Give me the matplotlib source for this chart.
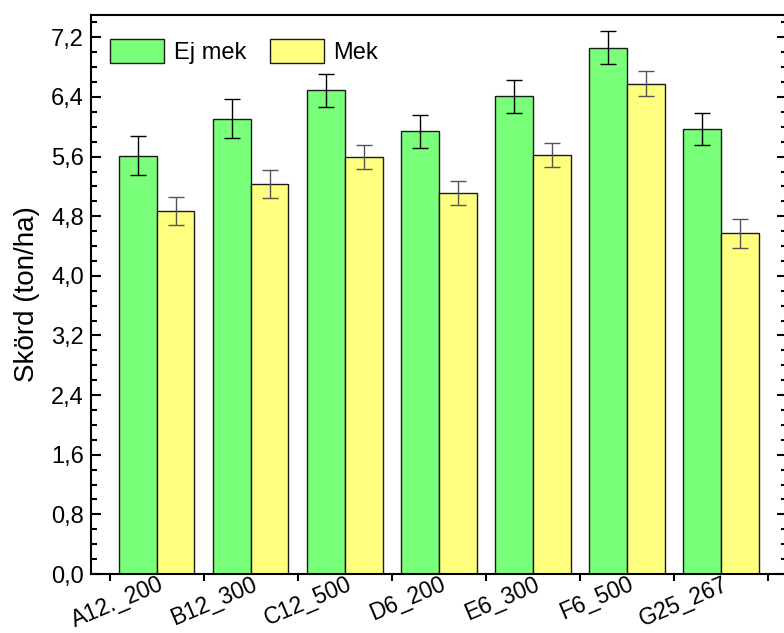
import numpy as np
import matplotlib
matplotlib.use('Agg')
import matplotlib.pyplot as plt
import matplotlib.transforms as mtransforms
from matplotlib.ticker import MultipleLocator, FuncFormatter, FixedLocator, NullFormatter

plt.rcParams['font.family'] = ['Liberation Sans', 'DejaVu Sans']

# skörd per försöksled, ton/ha
led = ['A12._200', 'B12_300', 'C12_500', 'D6_200', 'E6_300', 'F6_500', 'G25_267']
ej_mek = [5.61, 6.11, 6.49, 5.94, 6.41, 7.06, 5.97]
ej_mek_fel = [0.26, 0.26, 0.22, 0.22, 0.22, 0.22, 0.22]
mek = [4.87, 5.23, 5.60, 5.11, 5.62, 6.58, 4.57]
mek_fel = [0.19, 0.19, 0.16, 0.165, 0.16, 0.165, 0.19]

x = np.arange(len(led))
w = 0.4

fig = plt.figure(figsize=(7.84, 6.33), dpi=100)
ax = fig.add_axes([0.1161, 0.0932, 0.8875, 0.8831])

ax.bar(x - w / 2, ej_mek, w, color='#79FF79', edgecolor='#1a1a1a', linewidth=1.0,
       label='Ej mek', zorder=2)
ax.bar(x + w / 2, mek, w, color='#FFFF7F', edgecolor='#1a1a1a', linewidth=1.0,
       label='Mek', zorder=2)
ax.errorbar(x - w / 2, ej_mek, yerr=ej_mek_fel, fmt='none', ecolor='black',
            elinewidth=1.0, capsize=6, capthick=1.0, zorder=3)
ax.errorbar(x + w / 2, mek, yerr=mek_fel, fmt='none', ecolor='#555555',
            elinewidth=1.0, capsize=6, capthick=1.0, zorder=3)

ax.set_xlim(-0.7, 6.7)
ax.set_ylim(0, 7.5)

# y-axel: ticks inåt på båda sidor, decimalkomma
ax.yaxis.set_major_locator(MultipleLocator(0.8))
ax.yaxis.set_minor_locator(MultipleLocator(0.2))
ax.yaxis.set_major_formatter(FuncFormatter(lambda v, p: f'{v:.1f}'.replace('.', ',')))
ax.tick_params(axis='y', which='both', direction='in', left=True, right=True,
               labelsize=17, width=1.5)
ax.tick_params(axis='y', which='major', length=7, pad=5)
ax.tick_params(axis='y', which='minor', length=4)

# x-axel: ticks mellan grupperna, etiketter under varje grupp
ax.xaxis.set_major_locator(FixedLocator(np.arange(-0.5, 7, 1.0)))
ax.xaxis.set_major_formatter(NullFormatter())
ax.xaxis.set_minor_locator(FixedLocator(x))
ax.set_xticklabels(led, minor=True, rotation=23, ha='right', fontsize=16.5)
ax.tick_params(axis='x', which='major', direction='out', length=5, width=1.5)
ax.tick_params(axis='x', which='minor', length=0, pad=2)
shift = mtransforms.ScaledTranslation(10 / 100, 4 / 100, fig.dpi_scale_trans)
for lab in ax.get_xticklabels(minor=True):
    lab.set_transform(lab.get_transform() + shift)

for s in ax.spines.values():
    s.set_linewidth(1.5)

ax.set_ylabel('Skörd (ton/ha)', fontsize=20, labelpad=8)

ax.legend(loc='upper left', ncol=2, frameon=False, fontsize=17,
          handlelength=2.3, handleheight=1.15, handletextpad=0.4,
          columnspacing=1.0, borderaxespad=0.4, bbox_to_anchor=(0.0, 0.99))

fig.savefig('out.png', dpi=100)
